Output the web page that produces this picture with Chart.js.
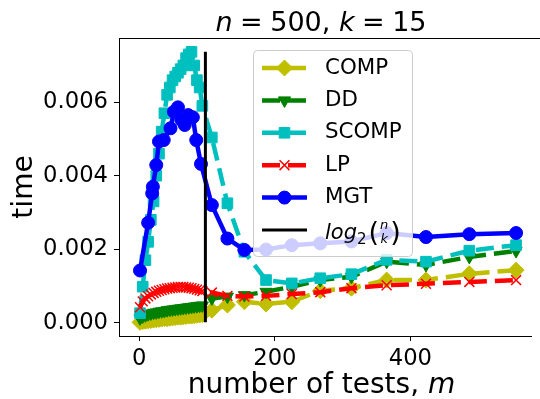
<!DOCTYPE html>
<html>
<head>
<meta charset="utf-8">
<title>n = 500, k = 15</title>
<script src="https://cdn.jsdelivr.net/npm/chart.js@4.4.0/dist/chart.umd.min.js"></script>
<style>
    html, body { margin: 0; padding: 0; background: #ffffff; overflow: hidden; }
    canvas { display: block; }
</style>
</head>
<body>
<canvas id="graficoTempo" width="540" height="399"></canvas>
<script>
// ==========================================
// DATA
// ==========================================

// number of tests m used for COMP / DD / SCOMP / LP
const testCounts = [1, 5, 9, 13, 17, 21, 25, 29, 33, 37, 41, 45, 49, 53, 57, 61, 65, 69, 73, 77, 81, 85, 89, 93,
    107, 130, 155, 187, 225, 267, 313, 365, 423, 487, 556];

const timeCOMP = [0.00001, 0.00003, 0.00004, 0.00005, 0.00006, 0.00007, 0.00008, 0.00009, 0.0001, 0.00011, 0.00011, 0.00012,
    0.00013, 0.00014, 0.00015, 0.00015, 0.00016, 0.00017, 0.00018, 0.00018, 0.00019, 0.0002, 0.00021, 0.00022,
    0.00034, 0.00048, 0.00057, 0.00051, 0.00057, 0.00087, 0.00094, 0.00116, 0.00116, 0.00133, 0.00143];

const timeDD = [0.00012, 0.00017, 0.0002, 0.00023, 0.00025, 0.00027, 0.00028, 0.0003, 0.00031, 0.00032, 0.00034, 0.00035,
    0.00036, 0.00037, 0.00038, 0.00039, 0.0004, 0.00041, 0.00042, 0.00043, 0.00044, 0.00045, 0.00046, 0.00047,
    0.00066, 0.00071, 0.00075, 0.00084, 0.00098, 0.00116, 0.00125, 0.00166, 0.00157, 0.00179, 0.00195];

const timeSCOMP = [0.00026, 0.00098, 0.0017, 0.0022, 0.0028, 0.0033, 0.004, 0.0046, 0.0052, 0.0057, 0.0062, 0.0064,
    0.0066, 0.0067, 0.0068, 0.0069, 0.007, 0.0072, 0.0073, 0.00737, 0.007, 0.0066, 0.0064, 0.0059,
    0.00504, 0.00325, 0.00193, 0.00116, 0.00107, 0.00121, 0.00132, 0.00171, 0.00166, 0.00196, 0.00211];

const timeLP = [0.00042, 0.00058, 0.00066, 0.00072, 0.00077, 0.00081, 0.00084, 0.00087, 0.00089, 0.00091, 0.00093, 0.00094,
    0.00095, 0.00096, 0.00097, 0.00097, 0.00097, 0.00096, 0.00095, 0.00094, 0.00092, 0.0009, 0.00088, 0.00086,
    0.00082, 0.00073, 0.00071, 0.00073, 0.00078, 0.00083, 0.00094, 0.00102, 0.00106, 0.00111, 0.00116];

// MGT was run on its own set of m values
const testCountsMGT = [1, 13, 19, 20, 25, 29, 36, 46, 51, 57, 62, 67, 72, 79, 84, 91,
    107, 130, 155, 187, 225, 267, 313, 365, 423, 487, 556];

const timeMGT = [0.00142, 0.00272, 0.00352, 0.0037, 0.00429, 0.00493, 0.00497, 0.00529, 0.00574, 0.00586, 0.00552, 0.00538,
    0.00565, 0.00559, 0.00497, 0.00432, 0.0032, 0.00229, 0.00198, 0.00199, 0.00211, 0.00216, 0.00221, 0.00244,
    0.00233, 0.00241, 0.00244];

// position of the vertical log2(n choose k) marker, as drawn in the figure
const markerTests = 97.5;

const xTicks = [0, 200, 400];
const yTicks = [0, 0.002, 0.004, 0.006];

// ==========================================
// CHART
// ==========================================

document.addEventListener("DOMContentLoaded", () => {
    desenharGrafico();
});

const FONT = '"DejaVu Sans", sans-serif';

function pares(xs, ys) {
    return xs.map((x, i) => ({ x: x, y: ys[i] }));
}

/**
 * Writes a row of text pieces (some italic) centred on cx.
 */
function escreverTrechos(ctx, trechos, cx, baseY, size) {
    const larguras = trechos.map(t => {
        ctx.font = (t.italic ? 'italic ' : '') + size + 'px ' + FONT;
        return ctx.measureText(t.text).width + 2 * (t.gap || 0);
    });
    let x = cx - larguras.reduce((a, b) => a + b, 0) / 2;
    trechos.forEach((t, i) => {
        ctx.font = (t.italic ? 'italic ' : '') + size + 'px ' + FONT;
        ctx.fillText(t.text, x + (t.gap || 0), baseY);
        x += larguras[i];
    });
}

// Title, axis titles and the top spine
const textosPlugin = {
    id: 'textos',
    afterDraw(chart) {
        const ctx = chart.ctx;
        const area = chart.chartArea;
        ctx.save();
        ctx.strokeStyle = '#000';
        ctx.lineWidth = 1;
        ctx.beginPath();
        ctx.moveTo(area.left, area.top + 0.5);
        ctx.lineTo(area.right + 10, area.top + 0.5);
        ctx.stroke();

        ctx.fillStyle = '#000';
        ctx.textAlign = 'left';
        ctx.textBaseline = 'alphabetic';
        escreverTrechos(ctx, [
            { text: 'n', italic: true },
            { text: '=', gap: 7.5 },
            { text: '500, ' },
            { text: 'k', italic: true },
            { text: '=', gap: 7.5 },
            { text: '15' }
        ], 321, 31, 27);

        escreverTrechos(ctx, [
            { text: 'number of tests, ' },
            { text: 'm', italic: true }
        ], 321.5, 393, 28);

        ctx.translate(25, 187);
        ctx.rotate(-Math.PI / 2);
        ctx.textAlign = 'center';
        ctx.textBaseline = 'middle';
        ctx.font = '28px ' + FONT;
        ctx.fillText('time', 0, 0);
        ctx.restore();
    }
};

// Legend box drawn above the lines, semi-transparent like the original
const legendaLayout = { left: 253, top: 50, width: 159, height: 206, firstRow: 68, step: 32.4, h0: 262, h1: 307, textX: 325 };

const legendaPlugin = {
    id: 'legenda',
    afterDatasetsDraw(chart) {
        const ctx = chart.ctx;
        const L = legendaLayout;
        ctx.save();
        const x = L.left + 0.5, y = L.top + 0.5, w = L.width, h = L.height, r = 4;
        ctx.beginPath();
        ctx.moveTo(x + r, y);
        ctx.arcTo(x + w, y, x + w, y + h, r);
        ctx.arcTo(x + w, y + h, x, y + h, r);
        ctx.arcTo(x, y + h, x, y, r);
        ctx.arcTo(x, y, x + w, y, r);
        ctx.closePath();
        ctx.fillStyle = 'rgba(255,255,255,0.8)';
        ctx.fill();
        ctx.strokeStyle = '#cccccc';
        ctx.lineWidth = 1;
        ctx.stroke();

        chart.data.datasets.forEach((ds, i) => {
            const ry = L.firstRow + i * L.step;
            ctx.beginPath();
            ctx.setLineDash(ds.borderDash || []);
            ctx.lineWidth = ds.borderWidth;
            ctx.strokeStyle = ds.borderColor;
            ctx.moveTo(L.h0, ry);
            ctx.lineTo(L.h1, ry);
            ctx.stroke();
            ctx.setLineDash([]);
            if (ds.pointRadius > 0) {
                ctx.fillStyle = ds.pointBackgroundColor;
                ctx.strokeStyle = ds.pointBorderColor;
                ctx.lineWidth = ds.pointBorderWidth;
                Chart.helpers.drawPoint(ctx, {
                    pointStyle: ds.pointStyle,
                    rotation: ds.pointRotation || 0,
                    radius: ds.pointRadius,
                    borderWidth: ds.pointBorderWidth
                }, (L.h0 + L.h1) / 2, ry);
            }
            ctx.fillStyle = '#000';
            ctx.textAlign = 'left';
            if (i < 5) {
                ctx.textBaseline = 'middle';
                ctx.font = '21.4px ' + FONT;
                ctx.fillText(ds.label, L.textX, ry);
            } else {
                // log_2 (n over k)
                ctx.textBaseline = 'alphabetic';
                ctx.font = 'italic 21px ' + FONT;
                ctx.fillText('log', L.textX, ry + 9);
                let cx = L.textX + ctx.measureText('log').width;
                ctx.font = '15px ' + FONT;
                ctx.fillText('2', cx, ry + 14);
                cx += ctx.measureText('2').width + 2;
                ctx.font = '27px ' + FONT;
                ctx.fillText('(', cx, ry + 11);
                cx += ctx.measureText('(').width + 1;
                ctx.font = 'italic 13px ' + FONT;
                ctx.fillText('n', cx, ry - 1);
                ctx.fillText('k', cx + 0.5, ry + 13);
                cx += ctx.measureText('n').width + 2;
                ctx.font = '27px ' + FONT;
                ctx.fillText(')', cx, ry + 11);
            }
        });
        ctx.restore();
    }
};

function desenharGrafico() {
    const ctx = document.getElementById('graficoTempo');
    if (!ctx) return;

    const todos = timeCOMP.concat(timeDD, timeSCOMP, timeLP, timeMGT);

    const serie = (label, xs, ys, color, extra) => Object.assign({
        label: label,
        data: pares(xs, ys),
        borderColor: color,
        backgroundColor: color,
        pointBackgroundColor: color,
        pointBorderColor: color,
        borderWidth: 4.5,
        borderDash: [18, 8],
        pointBorderWidth: 1,
        tension: 0,
        fill: false
    }, extra);

    new Chart(ctx.getContext('2d'), {
        type: 'line',
        data: {
            datasets: [
                serie('COMP', testCounts, timeCOMP, '#bfbf00', { pointStyle: 'rectRot', pointRadius: 8, order: 6 }),
                serie('DD', testCounts, timeDD, '#008000', { pointStyle: 'triangle', pointRotation: 180, pointRadius: 7, order: 5 }),
                serie('SCOMP', testCounts, timeSCOMP, '#00bfbf', { pointStyle: 'rect', pointRadius: 7.5, order: 4 }),
                serie('LP', testCounts, timeLP, '#ff0000', { pointStyle: 'crossRot', pointRadius: 7, pointBorderWidth: 1.5, order: 3 }),
                serie('MGT', testCountsMGT, timeMGT, '#0000ff', { pointStyle: 'circle', pointRadius: 6.5, borderDash: [], order: 2 }),
                {
                    label: 'log2(n k)',
                    data: [{ x: markerTests, y: Math.min(...todos) }, { x: markerTests, y: Math.max(...todos) }],
                    borderColor: '#000000',
                    backgroundColor: '#000000',
                    borderWidth: 3,
                    pointRadius: 0,
                    order: 1
                }
            ]
        },
        plugins: [legendaPlugin, textosPlugin],
        options: {
            responsive: false,
            animation: false,
            layout: { padding: { top: 38, left: 0, right: 0, bottom: 0 } },
            plugins: {
                legend: { display: false },
                title: { display: false },
                tooltip: { enabled: false }
            },
            scales: {
                x: {
                    type: 'linear',
                    min: -30,
                    max: 578,
                    afterFit: (scale) => { scale.height = 63; },
                    afterBuildTicks: (scale) => { scale.ticks = xTicks.map(v => ({ value: v })); },
                    grid: { drawOnChartArea: false, drawTicks: true, tickLength: 5, tickColor: '#000', tickWidth: 1 },
                    border: { display: true, color: '#000', width: 1 },
                    ticks: {
                        color: '#000',
                        padding: 4,
                        font: { size: 22.7, family: FONT },
                        callback: (v) => String(v)
                    }
                },
                y: {
                    type: 'linear',
                    min: -0.000362,
                    max: 0.007747,
                    afterFit: (scale) => { scale.width = 119; },
                    afterBuildTicks: (scale) => { scale.ticks = yTicks.map(v => ({ value: v })); },
                    grid: { drawOnChartArea: false, drawTicks: true, tickLength: 5, tickColor: '#000', tickWidth: 1 },
                    border: { display: true, color: '#000', width: 1 },
                    ticks: {
                        color: '#000',
                        padding: 6,
                        font: { size: 22.7, family: FONT },
                        callback: (v) => Number(v).toFixed(3)
                    }
                }
            }
        }
    });
}
</script>
</body>
</html>
